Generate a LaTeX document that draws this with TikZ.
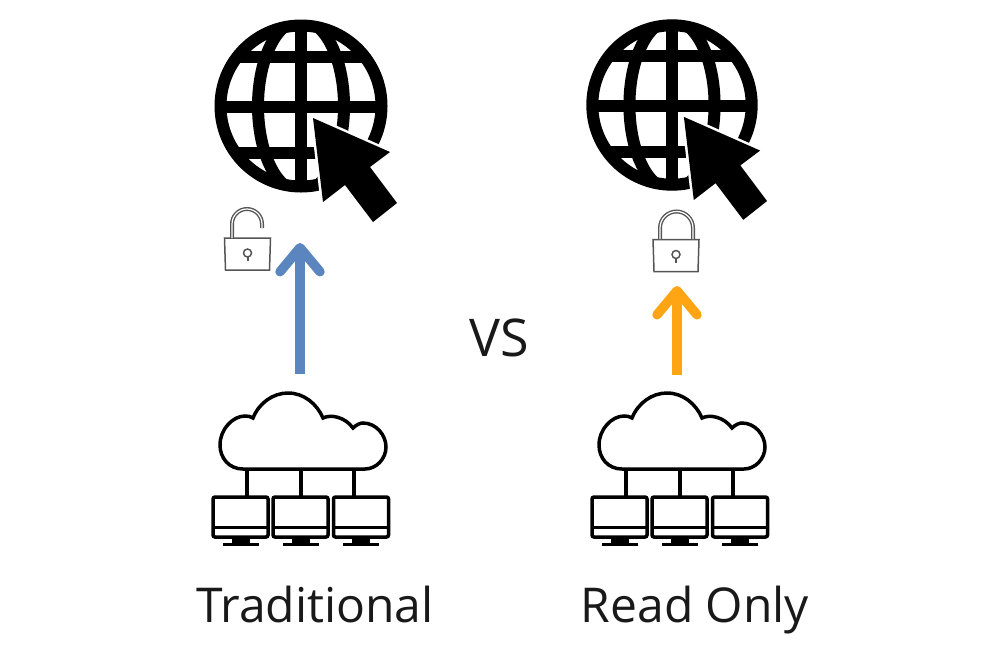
\documentclass[tikz,border=0pt]{standalone}
\usepackage{fontspec}
\usepackage{tikz}
\usetikzlibrary{arrows.meta}
\setmainfont{Open Sans}

\definecolor{tradblue}{HTML}{5B85BE}
\definecolor{readorange}{HTML}{FFA514}
\definecolor{lockgray}{HTML}{555555}

\tikzset{
    caption/.style={font=\fontsize{48}{54}\selectfont, text=black!90, inner sep=0pt, anchor=base},
    flow/.style={line width=9.5pt, -{Straight Barb[round,length=24pt,width=40pt]}},
    globe/.pic={
        \begin{scope}
            \clip (0,0) circle (86);
            \draw[line width=12pt] (0,0) ellipse (43 and 86);
            \draw[line width=12pt] (0,-86) -- (0,86);
            \draw[line width=12pt] (-86,1) -- (86,1);
            \draw[line width=12pt] (-86,-49) -- (86,-49);
            \draw[line width=12pt] (-86,47) -- (86,47);
        \end{scope}
        \draw[line width=12pt] (0,0) circle (80.5);
        \fill[preaction={draw=white, line width=5pt}]
            (12,12) -- (89,46) -- (69,61) -- (96,97) -- (72,116) -- (44,79) -- (22,96) -- cycle;
    },
    network/.pic={
        \draw[line width=3.5pt] (-58,0) .. controls (-72,0) and (-81,-11) .. (-81,-24)
            .. controls (-81,-40) and (-68,-53) .. (-56,-53)
            .. controls (-53,-53) and (-50,-52.5) .. (-48,-51)
            .. controls (-42,-66) and (-28,-76) .. (-13,-76)
            .. controls (3,-76) and (16,-65) .. (22,-51)
            .. controls (30,-55) and (44,-52) .. (52,-41)
            .. controls (56,-45) and (60,-46) .. (62,-46)
            .. controls (75,-46) and (85,-34) .. (85,-22)
            .. controls (85,-10) and (75,0) .. (64,0) -- cycle;
        \foreach \x/\s in {-60.5/-54,-0.5/0,60/53} {
            \draw[line width=3.5pt] (\s,0) -- (\s,28);
            \draw[line width=3.5pt, rounded corners=2pt] (\x-27.5,28) rectangle (\x+27.5,68);
            \draw[line width=3pt] (\x-27.5,58) -- (\x+27.5,58);
            \fill (\x-9,68) rectangle (\x+9,74);
            \draw[line width=3pt] (\x-18,75) -- (\x+18,75);
        }
    },
    lockbody/.pic={
        \draw[lockgray, line width=1.5pt] (-23,-16) -- (23,-16) -- (22,16) -- (-22,16) -- cycle;
        \draw[lockgray, line width=1.5pt] (0,-1) circle (4);
        \fill[lockgray] (-1,2) rectangle (1,7);
    },
}

\begin{document}
\begin{tikzpicture}[x=1pt, y=-1pt]
    \useasboundingbox (0,0) rectangle (1000,659);

    \pic (globeA) at (301,106) {globe};
    \pic[scale=.99] (globeB) at (672,105) {globe};

    % open lock
    \pic (lockA) at (247.5,254) {lockbody};
    \draw[lockgray, line width=4pt] (232,238) -- (232,224) arc[start angle=180, end angle=360, radius=15] -- (262,228);
    \draw[white, line width=1.2pt] (232,238) -- (232,224) arc[start angle=180, end angle=360, radius=15] -- (262,228);

    % closed lock
    \pic (lockB) at (676,255.5) {lockbody};
    \draw[lockgray, line width=4pt] (660,239) -- (660,228) arc[start angle=180, end angle=360, radius=16.5] -- (693,239);
    \draw[white, line width=1.2pt] (660,239) -- (660,228) arc[start angle=180, end angle=360, radius=16.5] -- (693,239);

    \coordinate (tradlow) at (300,374);
    \coordinate (tradtop) at (300,243);
    \coordinate (readlow) at (677,375);
    \coordinate (readtop) at (677,286);
    \draw[flow, tradblue] (tradlow) -- (tradtop);
    \draw[flow, readorange] (readlow) -- (readtop);

    \node[caption, font=\fontsize{52}{58}\selectfont] (vs) at (499,356) {VS};

    \pic (netA) at (301,469) {network};
    \pic (netB) at (680,469) {network};

    \node[caption] (trad) at (315,622) {Traditional};
    \node[caption] (read) at (695,622) {Read Only};
\end{tikzpicture}
\end{document}
